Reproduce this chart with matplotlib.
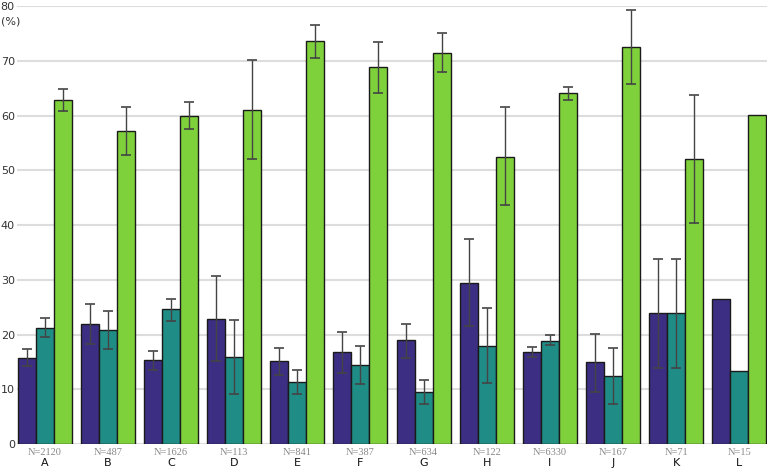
import matplotlib.pyplot as plt
import numpy as np

groups = ["A", "B", "C", "D", "E", "F", "G", "H", "I", "J", "K", "L"]
counts = [2120, 487, 1626, 113, 841, 387, 634, 122, 6330, 167, 71, 15]

# bar heights (%)
purple = [15.8, 21.9, 15.4, 22.9, 15.2, 16.9, 19.0, 29.4, 16.8, 15.0, 23.9, 26.5]
teal = [21.2, 20.9, 24.6, 15.9, 11.3, 14.4, 9.6, 17.9, 18.9, 12.4, 23.9, 13.3]
green = [62.9, 57.1, 59.9, 61.1, 73.6, 68.8, 71.4, 52.4, 64.1, 72.6, 52.1, 60.1]

# error bar ranges (low, high); None = no error bar
purple_ci = [(14.3, 17.3), (18.3, 25.6), (13.6, 17.1), (15.1, 30.7), (12.6, 17.5), (13.0, 20.5),
             (15.8, 21.9), (21.5, 37.5), (15.9, 17.8), (9.5, 20.2), (13.9, 33.8), None]
teal_ci = [(19.6, 23.1), (17.3, 24.4), (22.4, 26.5), (9.2, 22.7), (9.1, 13.5), (10.9, 17.9),
           (7.3, 11.8), (11.1, 24.8), (18.1, 19.9), (7.4, 17.6), (13.9, 33.8), None]
green_ci = [(60.8, 64.9), (52.8, 61.6), (57.6, 62.5), (52.1, 70.1), (70.6, 76.5), (64.1, 73.5),
            (67.9, 75.0), (43.6, 61.5), (62.9, 65.3), (65.8, 79.3), (40.4, 63.8), None]

colors = ["#3c2e82", "#1f8c86", "#7fd13c"]


def draw_series(ax, xs, vals, ci, color):
    ax.bar(xs, vals, width=0.285, color=color, edgecolor="#1a1a1a", linewidth=1.0, zorder=2)
    for x, v, c in zip(xs, vals, ci):
        if c is None:
            continue
        lo, hi = c
        ax.errorbar(x, v, yerr=[[v - lo], [hi - v]], fmt="none", ecolor="#444444",
                    elinewidth=1.0, capsize=3.5, capthick=1.2, zorder=3)


fig = plt.figure(figsize=(7.67, 4.69), dpi=100)
ax = fig.add_axes([0.022, 0.053, 0.978, 0.934])

x = np.arange(len(groups))
draw_series(ax, x - 0.285, purple, purple_ci, colors[0])
draw_series(ax, x, teal, teal_ci, colors[1])
draw_series(ax, x + 0.285, green, green_ci, colors[2])

ax.set_xlim(-0.44, 11.44)
ax.set_ylim(0, 80)
ax.set_yticks(range(0, 81, 10))
ax.yaxis.grid(True, color="#dddddd", linewidth=1.5, zorder=0)
ax.set_axisbelow(True)
for s in ax.spines.values():
    s.set_visible(False)
ax.tick_params(axis="y", length=0, pad=1.5, labelsize=8, labelcolor="#333333")
ax.tick_params(axis="x", length=0)
ax.set_xticks([])

ax.text(0.001, 0.955, "(%)", transform=fig.transFigure, fontsize=8, color="#333333",
        ha="left", va="center")

for i, (g, n) in enumerate(zip(groups, counts)):
    ax.text(i, -1.6, f"N={n}", ha="center", va="center", fontsize=7.5,
            family="Liberation Serif", color="#888888")
    ax.text(i, -3.45, g, ha="center", va="center", fontsize=8, color="#111111")

fig.savefig("out.png", dpi=100)
